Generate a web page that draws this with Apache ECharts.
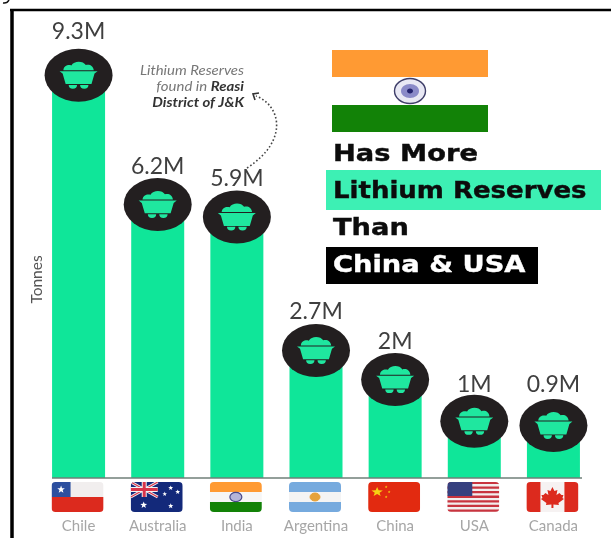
<!DOCTYPE html>
<html>
<head>
<meta charset="utf-8">
<style>html,body{margin:0;padding:0;background:#fff}#chart{width:611px;height:538px}</style>
<script src="https://cdn.jsdelivr.net/npm/echarts@6/dist/echarts.min.js"></script>
</head>
<body>
<div id="chart"></div>
<script>
// Lithium reserves by country, in millions of tonnes
const categories = ['Chile', 'Australia', 'India', 'Argentina', 'China', 'USA', 'Canada'];
const reserves = [9.3, 6.2, 5.9, 2.7, 2, 1, 0.9];
const axisName = 'Tonnes';
const headline = ['Has More', 'Lithium Reserves', 'Than', 'China & USA'];
const noteLines = ['Lithium Reserves', 'found in {b|Reasi}', '{b|District of J&K}'];

// Small vertical nudges that keep the value labels clear of their discs
const labelNudge = [-5, 1.5, 1, 0.5, 0.5, 2, -1.5];

const GREEN = '#0fe699';
const DARK = '#231f20';
const disc = 'path://M0,50 A50,50 0 1 1 100,50 A50,50 0 1 1 0,50 Z';
const cart = 'path://M0,33 H100 L92,40 L84,72 H16 L8,40 Z M10,30 C11,16 22,12 31,15 C38,0 62,0 69,14 C78,10 89,16 90,30 Z M24,75 H46 A11,11 0 0 1 24,75 Z M54,75 H76 A11,11 0 0 1 54,75 Z';

function star(cx, cy, r, sx) {
  const pts = [];
  for (let i = 0; i < 10; i++) {
    const a = -Math.PI / 2 + i * Math.PI / 5;
    const q = i % 2 ? r * 0.42 : r;
    pts.push([cx + (sx || 1) * q * Math.cos(a), cy + q * Math.sin(a)]);
  }
  return { type: 'polygon', shape: { points: pts }, style: { fill: '#fff' } };
}
function rect(x, y, w, h, fill) {
  return { type: 'rect', shape: { x, y, width: w, height: h }, style: { fill } };
}
function tinted(el, fill) { el.style.fill = fill; return el; }
function ring(cx, cy, rx, ry, stroke, fill, lw) {
  return { type: 'ellipse', shape: { cx, cy, rx, ry }, style: { fill, stroke, lineWidth: lw } };
}

// Each flag is drawn in a 52 x 30 box whose origin is its top left corner
const flagArt = {
  Chile: () => [
    rect(0, 0, 52, 15, '#f1eeee'), rect(0, 15, 52, 15, '#dc2a1e'), rect(0, 0, 19, 15, '#2c4f9f'),
    star(9.5, 7.5, 4)
  ],
  Australia: () => {
    const jack = (x1, y1, x2, y2, c, w) => ({ type: 'line', shape: { x1, y1, x2, y2 }, style: { stroke: c, lineWidth: w } });
    return [
      rect(0, 0, 52, 30, '#13297a'),
      jack(0, 0, 27, 15, '#f2f2f2', 3), jack(27, 0, 0, 15, '#f2f2f2', 3),
      jack(0, 0, 27, 15, '#d8344a', 1.2), jack(27, 0, 0, 15, '#d8344a', 1.2),
      jack(13.5, 0, 13.5, 15, '#f2f2f2', 5), jack(0, 7.5, 27, 7.5, '#f2f2f2', 5),
      jack(13.5, 0, 13.5, 15, '#d8344a', 3), jack(0, 7.5, 27, 7.5, '#d8344a', 3),
      star(13, 23, 3.6), star(40, 24, 2.8), star(40, 6, 2.6), star(34, 12, 2.4), star(47, 10, 2.6)
    ];
  },
  India: () => [
    rect(0, 0, 52, 10, '#ff9a33'), rect(0, 10, 52, 10, '#f6f6f6'), rect(0, 20, 52, 10, '#128207'),
    ring(26, 15, 6, 4.6, '#4a4a8a', '#b4b4d8', 1.2)
  ],
  Argentina: () => [
    rect(0, 0, 52, 10, '#76aade'), rect(0, 10, 52, 10, '#f4f4f4'), rect(0, 20, 52, 10, '#76aade'),
    ring(26, 15, 5, 4, '#e6a23a', '#e6a23a', 1)
  ],
  China: () => [
    rect(0, 0, 52, 30, '#e22a10'), tinted(star(9, 10, 5, 1.2), '#f6d313'),
    tinted(star(18, 5, 1.4), '#f6d313'), tinted(star(21, 10, 1.4), '#f6d313'), tinted(star(18, 15, 1.4), '#f6d313')
  ],
  USA: () => {
    const stripes = [];
    for (let i = 0; i < 7; i++) stripes.push(rect(0, i * 4.6 - 0.2, 52, 2.3, '#c8343f'));
    return [rect(0, 0, 52, 30, '#f2eeee')].concat(stripes, [rect(0, 0, 25, 14, '#36407f')]);
  },
  Canada: () => [
    rect(0, 0, 52, 30, '#f6f2f2'), rect(0, 0, 14, 30, '#dc2a1e'), rect(38, 0, 14, 30, '#dc2a1e'),
    { type: 'polygon', shape: { points: [[26,5],[28,9],[31,8],[30,13],[33,11],[35,13],[37,13],[36,16],[37.5,17],[32,21],[32.5,23],[27,22.5],[27,26],[25,26],[25,22.5],[19.5,23],[20,21],[14.5,17],[16,16],[15,13],[17,13],[19,11],[22,13],[21,8],[24,9]] }, style: { fill: '#dc2a1e' } }
  ]
};

function renderFlag(params, api) {
  const p = api.coord([api.value(0), 0]);
  const art = flagArt[categories[params.dataIndex]]();
  return {
    type: 'group', x: p[0] - 27, y: p[1] + 4,
    clipPath: { type: 'rect', shape: { x: 0, y: 0, width: 52, height: 30, r: 4 } },
    children: art
  };
}

const headStyle = { fontFamily: 'DejaVu Sans', fontWeight: 'bold', fontSize: 23, fill: '#0c0c0c', textVerticalAlign: 'middle', stroke: '#0c0c0c', lineWidth: 0.4 };
function headText(text, y, fill, scaleX) {
  return { type: 'text', x: 333, y, scaleX: scaleX || 1.187, z: 20,
    style: Object.assign({}, headStyle, fill ? { fill, stroke: fill } : {}, { text }) };
}

const option = {
  animation: false,
  backgroundColor: '#fff',
  grid: { left: 39, width: 554, top: 61, height: 417 },
  xAxis: {
    type: 'category', data: categories,
    axisLine: { show: false }, axisTick: { show: false },
    axisLabel: { interval: 0, margin: 41, fontFamily: 'Lato', fontSize: 15, color: '#a6a6a6' }
  },
  yAxis: {
    type: 'value', min: 0, max: 10, interval: 2,
    name: axisName, nameLocation: 'middle', nameRotate: 90, nameGap: -6,
    nameTextStyle: { fontFamily: 'Lato', fontSize: 15.5, color: '#555', padding: [0, 20, 0, 0] },
    axisLine: { show: false }, axisTick: { show: false }, axisLabel: { show: false }, splitLine: { show: false }
  },
  series: [
    { type: 'bar', data: reserves, barWidth: 53, itemStyle: { color: GREEN }, z: 2 },
    {
      type: 'scatter',
      data: reserves.map((value, i) => ({ value, label: { offset: [0, labelNudge[i]] } })),
      symbol: disc, symbolSize: [68, 53], symbolOffset: [0, -15],
      itemStyle: { color: DARK, opacity: 1 }, z: 3,
      label: {
        show: true, position: 'top', distance: 1,
        formatter: p => p.value + 'M',
        fontFamily: 'Lato', fontSize: 23, color: '#3f3f3f'
      }
    },
    {
      type: 'scatter', data: reserves, symbol: cart, symbolSize: [38, 27], symbolOffset: [0, -15],
      itemStyle: { color: '#1fe79f', opacity: 1 }, z: 4, silent: true
    },
    {
      type: 'custom', data: categories.map(c => [c, 0]), encode: { x: 0, y: 1 },
      renderItem: renderFlag, clip: false, z: 5, silent: true
    }
  ],
  graphic: [
    // Frame and the baseline under the bars
    { type: 'line', shape: { x1: 12, y1: 538, x2: 12, y2: 10 }, style: { stroke: '#000', lineWidth: 3.5 }, z: 30 },
    { type: 'line', shape: { x1: 10, y1: 10, x2: 611, y2: 10 }, style: { stroke: '#000', lineWidth: 2.5 }, z: 30 },
    { type: 'bezierCurve', shape: { x1: 3, y1: 3, cpx1: 6, cpy1: 3.5, cpx2: 8, cpy2: 2, x2: 9, y2: 0 }, style: { stroke: '#111', lineWidth: 1.5, fill: 'none' } },
    { type: 'line', shape: { x1: 52, y1: 478, x2: 582, y2: 478 }, style: { stroke: '#6f7f79', lineWidth: 1.4 }, z: 10 },

    // Reasi note and its dotted pointer
    {
      type: 'text', x: 244, y: 87, scaleX: 1.15, z: 20,
      style: {
        text: noteLines.join('\n'), align: 'right', verticalAlign: 'middle', lineHeight: 16,
        fontFamily: 'Lato', fontStyle: 'italic', fontSize: 13, fill: '#777',
        rich: { b: { fontFamily: 'Lato', fontStyle: 'italic', fontWeight: 'bold', fontSize: 13, fill: '#333', lineHeight: 16 } }
      }
    },
    { type: 'bezierCurve', shape: { x1: 247, y1: 168, cpx1: 290, cpy1: 140, cpx2: 280, cpy2: 105, x2: 256, y2: 96 }, style: { stroke: '#444', lineWidth: 1.6, lineDash: [1.6, 2.2], fill: 'none' } },
    { type: 'polyline', shape: { points: [[259, 93], [253, 94], [255, 100]] }, style: { stroke: '#333', lineWidth: 1.6, fill: 'none' } },

    // Indian flag headline block
    { type: 'rect', shape: { x: 332, y: 50, width: 156, height: 27 }, style: { fill: '#ff9a33' } },
    { type: 'rect', shape: { x: 332, y: 105, width: 156, height: 27 }, style: { fill: '#128207' } },
    { type: 'ellipse', shape: { cx: 410, cy: 91, rx: 15.5, ry: 12.5 }, style: { fill: '#e8e8f4', stroke: '#3f3f6a', lineWidth: 1.4 } },
    { type: 'ellipse', shape: { cx: 410, cy: 91, rx: 9, ry: 7 }, style: { fill: '#8a8ac8' } },
    { type: 'ellipse', shape: { cx: 410, cy: 91, rx: 3, ry: 2.5 }, style: { fill: '#23236e' } },
    { type: 'rect', shape: { x: 326, y: 170, width: 275, height: 40 }, style: { fill: '#3df0b4' } },
    { type: 'rect', shape: { x: 326, y: 247, width: 212, height: 37 }, style: { fill: '#000' } },
    headText(headline[0], 155),
    headText(headline[1], 192, null, 1.13),
    headText(headline[2], 229),
    headText(headline[3], 266, '#fff')
  ]
};

echarts.init(document.getElementById('chart'), null, { renderer: 'canvas' }).setOption(option);
</script>
</body>
</html>
